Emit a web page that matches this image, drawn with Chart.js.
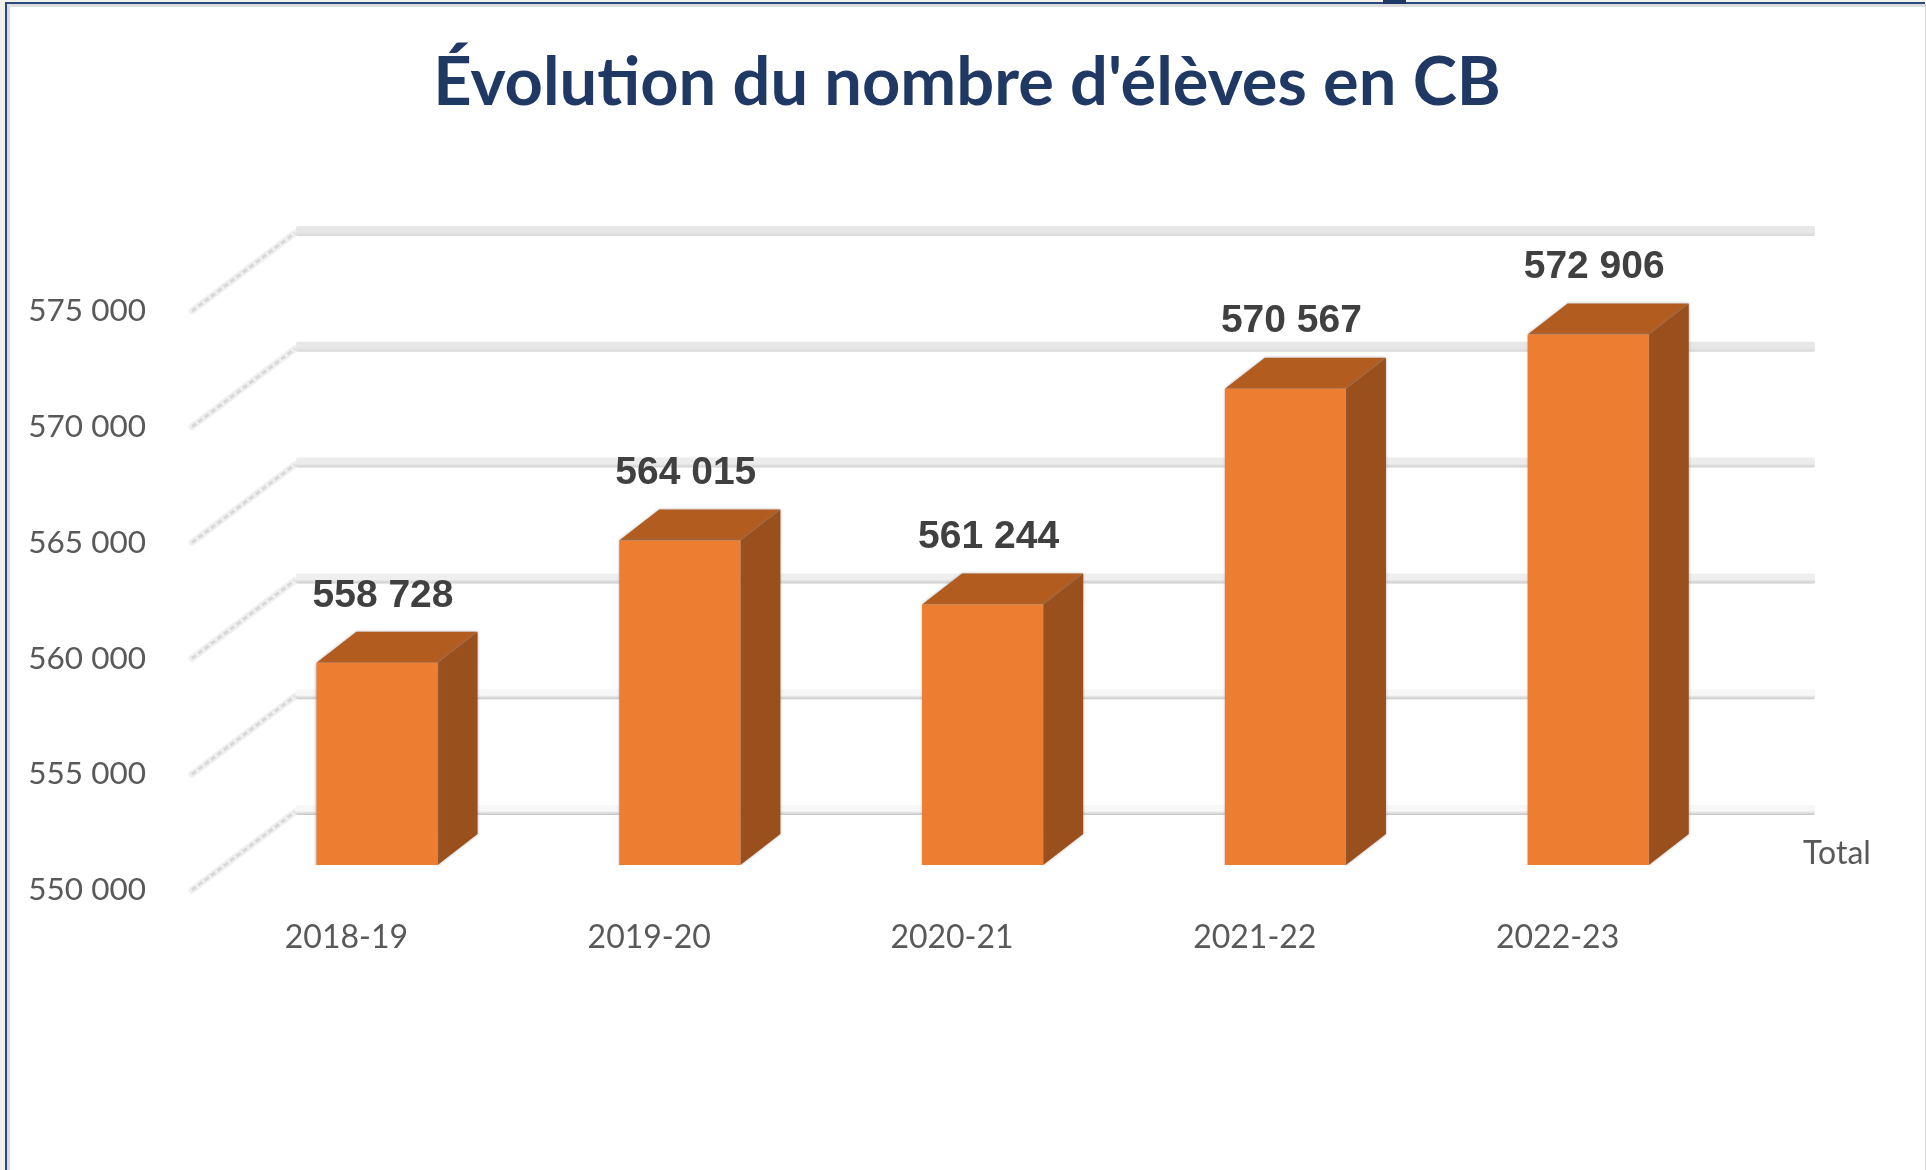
<!DOCTYPE html>
<html lang="fr">
<head>
<meta charset="utf-8">
<title>Évolution du nombre d'élèves en CB</title>
<script src="https://cdn.jsdelivr.net/npm/chart.js@4/dist/chart.umd.js"></script>
<style>
    html, body { margin: 0; padding: 0; background: #f4f0ec; }
    #frame { position: absolute; left: 5px; top: 2px; width: 1920px; height: 1168px; background: #fff;
             border-top: 2px solid #2b4a7c; border-left: 2px solid #2b4a7c; box-sizing: border-box;
             box-shadow: inset 3px 3px 0 #dcdcdc; }
    #tab { position: absolute; left: 1383px; top: 0; width: 23px; height: 4px; background: #1f3864; }
    #edge { position: absolute; left: 1925px; top: 4px; width: 1px; height: 1166px; background: #d8d8d8; }
    canvas { position: absolute; left: 0; top: 0; display: block; }
</style>
</head>
<body>
<div id="frame"></div>
<div id="tab"></div>
<div id="edge"></div>
<canvas id="chart" width="1926" height="1170"></canvas>
<script>
// ===============================
// DATA
// ===============================
const years = ['2018-19', '2019-20', '2020-21', '2021-22', '2022-23'];
const totals = [558728, 564015, 561244, 570567, 572906];
const seriesName = 'Total';
const chartTitle = "Évolution du nombre d'élèves en CB";

// ===============================
// 3D LOOK (Chart.js has no 3D bars)
// ===============================
const WALL = { dx: 102, dy: -80, extraRight: 4 };  // front edge -> back wall
const BAR_SHIFT = { dx: 30.6, dy: -25 };           // bars stand a bit inside the floor
const BAR_DEPTH = { dx: 40, dy: -31 };
const LINE_COLORS = [
    ['#f7f7f7', '#c4c4c4'], ['#f7f7f7', '#c6c6c6'],
    ['#efefef', '#cccccc'], ['#ececec', '#cfcfcf'],
    ['#e7e7e7', '#d8d8d8'], ['#e7e7e7', '#d8d8d8']
];

const formatNumber = (val) => String(val).replace(/\B(?=(\d{3})+$)/g, ' ');

const fakeWalls = {
    id: 'fakeWalls',
    beforeDatasetsDraw(chart) {
        const { ctx, scales: { y }, chartArea } = chart;
        y.ticks.forEach((tick, i) => {
            const py = y.getPixelForValue(tick.value);
            const x0 = chartArea.left, x1 = x0 + WALL.dx, x2 = chartArea.right + WALL.dx + WALL.extraRight;
            const by = py + WALL.dy;

            // stippled diagonal on the side wall
            ctx.save();
            ctx.lineCap = 'round';
            ctx.strokeStyle = '#f0f0f0';
            ctx.lineWidth = 7;
            ctx.beginPath(); ctx.moveTo(x0 - 3, py); ctx.lineTo(x1 - 2, by + 2); ctx.stroke();
            ctx.lineCap = 'butt';
            ctx.strokeStyle = '#d8d8d8';
            ctx.lineWidth = 3;
            ctx.setLineDash([5, 3]);
            ctx.beginPath(); ctx.moveTo(x0 - 3, py); ctx.lineTo(x1 - 2, by + 2); ctx.stroke();
            ctx.restore();

            // band on the back wall
            const grad = ctx.createLinearGradient(0, by - 5, 0, by + 5);
            grad.addColorStop(0, LINE_COLORS[i][0]);
            grad.addColorStop(0.6, LINE_COLORS[i][0]);
            grad.addColorStop(1, LINE_COLORS[i][1]);
            ctx.fillStyle = grad;
            ctx.beginPath();
            ctx.roundRect(x1 - 1, by - 5, x2 - x1 + 1, 10, 2);
            ctx.fill();
        });
    },
    beforeDatasetDraw(chart, args) {
        const { ctx, scales: { y } } = chart;
        const base = y.getPixelForValue(y.min);
        ctx.save();
        ctx.translate(BAR_SHIFT.dx, BAR_SHIFT.dy);
        ctx.shadowColor = 'rgba(120,120,120,0.6)';
        ctx.shadowBlur = 3;
        args.meta.data.forEach((bar) => {
            const left = bar.x - bar.width / 2, right = bar.x + bar.width / 2;
            const d = BAR_DEPTH;
            // top face
            ctx.fillStyle = '#b35c20';
            ctx.beginPath();
            ctx.moveTo(left, bar.y);
            ctx.lineTo(left + d.dx, bar.y + d.dy);
            ctx.lineTo(right + d.dx, bar.y + d.dy);
            ctx.lineTo(right, bar.y);
            ctx.closePath();
            ctx.fill();
            // side face
            ctx.fillStyle = '#9a501c';
            ctx.beginPath();
            ctx.moveTo(right, bar.y);
            ctx.lineTo(right + d.dx, bar.y + d.dy);
            ctx.lineTo(right + d.dx, base + d.dy);
            ctx.lineTo(right, base);
            ctx.closePath();
            ctx.fill();
        });
    },
    afterDatasetDraw(chart) {
        chart.ctx.restore();
    },
    afterDatasetsDraw(chart) {
        const { ctx, chartArea } = chart;
        ctx.save();
        ctx.textAlign = 'center';
        ctx.textBaseline = 'middle';
        ctx.fillStyle = '#404040';
        ctx.font = 'bold 39px "Liberation Sans"';
        chart.getDatasetMeta(0).data.forEach((bar, i) => {
            ctx.fillText(formatNumber(totals[i]), bar.x + BAR_SHIFT.dx + 6, bar.y + BAR_SHIFT.dy - 67);
        });
        // series name, where the depth axis would be
        ctx.fillStyle = '#595959';
        ctx.font = '32px Lato';
        ctx.fillText(chart.data.datasets[0].label, chartArea.right + 128, chartArea.bottom - 36);
        ctx.restore();
    }
};

// ===============================
// INIT
// ===============================
new Chart(document.getElementById('chart').getContext('2d'), {
    type: 'bar',
    data: {
        labels: years,
        datasets: [{
            label: seriesName,
            data: totals,
            backgroundColor: '#ed7d31',
            borderWidth: 0,
            barPercentage: 0.4,
            categoryPercentage: 1
        }]
    },
    plugins: [fakeWalls],
    options: {
        responsive: false,
        animation: false,
        layout: { padding: { left: 8, right: 0, top: 0, bottom: 0 } },
        plugins: {
            legend: { display: false },
            tooltip: { enabled: false },
            title: {
                display: true,
                text: chartTitle,
                color: '#1f3864',
                font: { family: 'Lato', size: 66.8, weight: 'bold' },
                padding: { top: 43, bottom: 187.8 }
            }
        },
        scales: {
            x: {
                grid: { display: false },
                border: { display: false },
                afterFit: (scale) => { scale.height = 280; },
                ticks: { color: '#595959', font: { family: 'Lato', size: 32 }, padding: 20, maxRotation: 0 }
            },
            y: {
                min: 550000,
                max: 575000,
                grid: { display: false },
                border: { display: false },
                afterFit: (scale) => { scale.width = 187; },
                ticks: {
                    stepSize: 5000,
                    color: '#595959',
                    font: { family: 'Lato', size: 31.5 },
                    padding: 41,
                    callback: (val) => formatNumber(val)
                }
            },
            // empty axis, only keeps the room on the right so the title stays centred on the page
            spacer: {
                type: 'linear',
                position: 'right',
                grid: { display: false },
                border: { display: false },
                ticks: { display: false },
                afterFit: (scale) => { scale.width = 217; }
            }
        }
    }
});
</script>
</body>
</html>
